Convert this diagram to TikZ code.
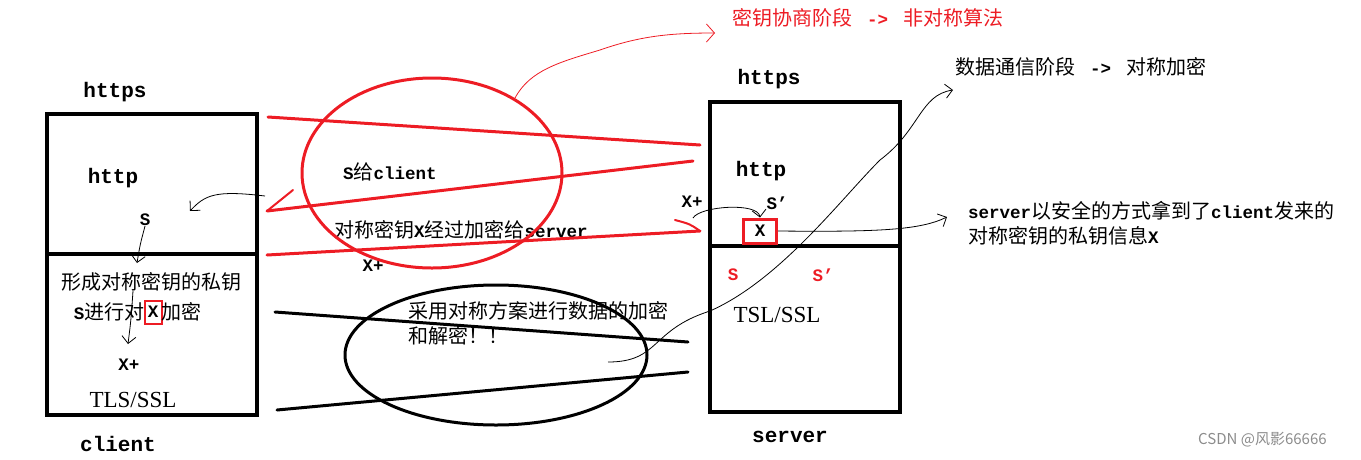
\documentclass[tikz,border=0pt]{standalone}
\usepackage{fontspec}
\newfontfamily\cjk{Noto Sans CJK SC}
\newfontfamily\mono{Liberation Mono}
\newfontfamily\tms{Liberation Serif}
\usetikzlibrary{arrows.meta,positioning}
\definecolor{paintred}{RGB}{237,28,36}
\newcommand{\en}[1]{{\mono\bfseries\fontsize{17.5}{20}\selectfont #1}}

\begin{document}
\begin{tikzpicture}[x=1pt,y=-1pt]
	\tikzstyle{every node}=[inner sep=0pt]
	\tikzstyle{zh}=[font=\cjk\fontsize{20}{25}\selectfont]
	\tikzstyle{lbl}=[font=\mono\bfseries\fontsize{21}{24}\selectfont]
	\tikzstyle{sm}=[font=\mono\bfseries\fontsize{17.5}{20}\selectfont]
	\tikzstyle{ssl}=[font=\tms\fontsize{23}{26}\selectfont]
	\tikzstyle{box}=[line width=3.5pt]
	\tikzstyle{redline}=[paintred, line width=3pt, line cap=round, line join=round]
	\tikzstyle{blkline}=[line width=3pt, line cap=round]
	\tikzstyle{hand}=[line width=0.8pt, -{Straight Barb[length=7pt,width=14pt]}]
	\useasboundingbox (0,0) rectangle (1361,459);

	\draw[box] (47,114) rectangle (257,415);
	\draw[box] (47,254) -- (257,254);
	\draw[box] (710,102) rectangle (900,412);
	\draw[box] (710,246) -- (900,246);

	\node[lbl] (chttps) at (115,92) {https};
	\node[lbl] (chttp) at (113,178) {http};
	\node[sm] (cS) at (145,220) {S};
	\node[zh] (ckey) at (151,282) {形成对称密钥的私钥};
	\node[sm, draw=paintred, line width=2pt, minimum width=17, minimum height=23] (cX) at (153,312) {X};
	\node[zh, left=-1pt of cX] (cenc) {\en{S}进行对};
	\node[zh, right=-1pt of cX] (cenc2) {加密};
	\node[sm] (cXp) at (129,365) {X+};
	\node[ssl] (ctls) at (133,400) {TLS/SSL};
	\node[lbl] (cclient) at (118,444) {client};

	\node[lbl] (shttps) at (769,79) {https};
	\node[lbl] (shttp) at (761,171) {http};
	\node[sm] (sSp) at (777,203) {S’};
	\node[sm] (sXp) at (692,202) {X+};
	\node[sm, draw=paintred, line width=3pt, minimum width=33, minimum height=24] (sX) at (760,231) {X};
	\node[sm, paintred] (sS) at (733,275) {S};
	\node[sm, paintred] (sS2) at (823,275) {S’};
	\node[ssl] (stls) at (777,315) {TSL/SSL};
	\node[lbl] (sserver) at (790,437) {server};

	\node[zh] (sgive) at (390,172) {\en{S}给\en{client}};
	\node[zh] (xgive) at (461,230) {对称密钥\en{X}经过加密给\en{server}};
	\node[sm] (mXp) at (373,266) {X+};
	\node[zh, anchor=west, align=left] (sym) at (408,323) {采用对称方案进行数据的加密\\和解密！！};

	\node[zh, anchor=west, text=paintred] (phase1) at (732,18) {密钥协商阶段 \en{ -> } 非对称算法};
	\node[zh, anchor=west] (phase2) at (955,67) {数据通信阶段 \en{ -> } 对称加密};
	\node[zh, anchor=west, align=left] (got) at (968,223) {\en{server}以安全的方式拿到了\en{client}发来的\\对称密钥的私钥信息\en{X}};
	\node[anchor=west, text=black!45, font=\cjk\fontsize{15}{18}\selectfont] (mark) at (1198,440) {CSDN @风影66666};

	\coordinate (r1a) at (268,117);
	\coordinate (r1b) at (700,145);
	\coordinate (r2a) at (693,161);
	\coordinate (r2b) at (267,211);
	\coordinate (r3a) at (267,255);
	\coordinate (r3b) at (700,231);
	\draw[redline] (r1a) -- (r1b);
	\draw[redline] (r2a) -- (r2b);
	\draw[redline, line width=2pt] (r2b) -- (293,190);
	\draw[redline] (r3a) -- (r3b);
	\draw[redline, line width=2pt] (r3b) .. controls (690,224) .. (675,220);
	\draw[redline] (432,173) ellipse [x radius=130, y radius=95];
	\draw[paintred, line width=0.8pt, -{Straight Barb[length=8pt,width=18pt]}] (515,98) .. controls (530,70) and (560,62) .. (600,50) .. controls (640,36) and (670,33) .. (715,33);

	\coordinate (b1a) at (275,312);
	\coordinate (b1b) at (688,342);
	\coordinate (b2a) at (277,410);
	\coordinate (b2b) at (688,372);
	\draw[blkline] (b1a) -- (b1b);
	\draw[blkline] (b2a) -- (b2b);
	\draw[blkline] (496,355) ellipse [x radius=151, y radius=70];

	\coordinate (cback) at (265,196);
	\coordinate (ctip) at (190,211);
	\draw[hand] (cback) .. controls (215,190) and (205,195) .. (ctip);
	\coordinate (c1) at (137,263);
	\draw[hand] (cS.south) .. controls (140,245) .. (c1);
	\coordinate (c2) at (133,291);
	\coordinate (c3) at (128,344);
	\draw[hand] (c2) .. controls (131,320) .. (c3);

	\coordinate (x0) at (693,218);
	\draw[hand] (x0) .. controls (700,206) and (758,202) .. (sX.north);
	\coordinate (x1) at (947,217);
	\draw[hand] (sX.east) .. controls (880,232) and (920,230) .. (x1);

	\coordinate (d0) at (608,362);
	\coordinate (d1) at (953,90);
	\draw[hand] (d0) .. controls (660,362) and (650,330) .. (710,311) .. controls (780,280) and (840,200) .. (880,160) .. controls (920,130) and (920,95) .. (d1);
\end{tikzpicture}
\end{document}
